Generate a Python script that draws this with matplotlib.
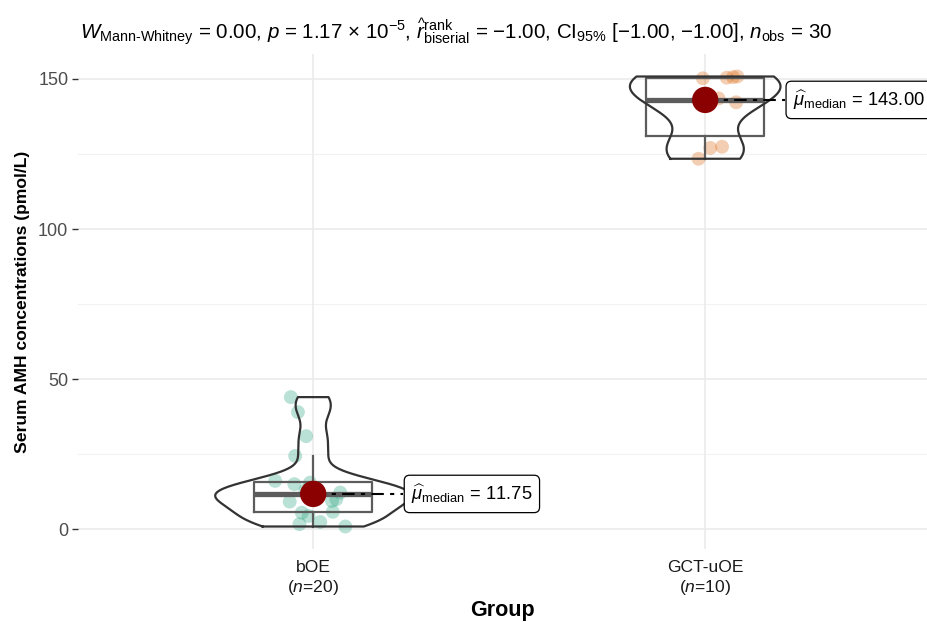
import numpy as np
import matplotlib.pyplot as plt

plt.rcParams['font.family'] = ['Liberation Sans', 'DejaVu Sans']
plt.rcParams['mathtext.fontset'] = 'custom'
plt.rcParams['mathtext.rm'] = 'Liberation Sans'
plt.rcParams['mathtext.it'] = 'Liberation Sans:italic'
plt.rcParams['mathtext.bf'] = 'Liberation Sans:bold'

# data
groups = ["bOE", "GCT-uOE"]
group_n = [20, 10]
boe_vals = [0.9, 1.7, 2.4, 4.4, 5.5, 5.8, 9.2, 9.4, 10.0, 11.5,
            12.0, 12.2, 13.0, 15.0, 15.5, 16.1, 24.4, 31.0, 39.0, 44.0]
boe_jitter = [0.082, -0.035, 0.018, -0.012, -0.029, 0.050, -0.060, 0.048, 0.059, -0.003,
              0.013, 0.069, -0.020, -0.048, -0.008, -0.097, -0.046, -0.018, -0.039, -0.057]
gct_vals = [123.4, 127.0, 127.4, 142.2, 142.5, 143.5, 150.2, 150.4, 150.6, 150.8]
gct_jitter = [-0.017, 0.013, 0.043, 0.079, 0.008, 0.034, -0.006, 0.055, 0.071, 0.082]
colors = ["#1B9E77", "#D95F02"]

title = (r"$W_{\mathrm{Mann‐Whitney}}$ = 0.00, $p$ = 1.17 × 10$^{\mathrm{-5}}$, "
         r"$\widehat{r}_{\mathrm{biserial}}^{\mathrm{rank}}$ = −1.00, "
         r"CI$_{\mathrm{95\%}}$ [−1.00, −1.00], $n_{\mathrm{obs}}$ = 30")


def nrd0(x):
    x = np.asarray(x)
    iqr = np.percentile(x, 75) - np.percentile(x, 25)
    lo = min(np.std(x, ddof=1), iqr / 1.34)
    return 0.9 * lo * len(x) ** (-0.2)


def density(x, grid):
    x = np.asarray(x)
    bw = nrd0(x)
    z = (grid[:, None] - x[None, :]) / bw
    return np.exp(-0.5 * z ** 2).sum(axis=1) / (len(x) * bw * np.sqrt(2 * np.pi))


all_vals = [boe_vals, gct_vals]
all_jit = [boe_jitter, gct_jitter]
grids = [np.linspace(min(v), max(v), 512) for v in all_vals]
dens = [density(v, g) for v, g in zip(all_vals, grids)]
dmax = max(d.max() for d in dens)

fig = plt.figure(figsize=(9.27, 6.22), dpi=100)
ax = fig.add_axes([78 / 927, (622 - 549) / 622, 849 / 927, (549 - 54) / 622])

ymin = min(min(v) for v in all_vals)
ymax = max(max(v) for v in all_vals)
pad = (ymax - ymin) * 0.05
ax.set_ylim(ymin - pad, ymax + pad)
ax.set_xlim(0.4, 0.4 + 849 / 392)

# grid
for yv in [25, 75, 125]:
    ax.axhline(yv, color='#F2F2F2', lw=0.8, zorder=0)
for yv in [0, 50, 100, 150]:
    ax.axhline(yv, color='#EBEBEB', lw=1.2, zorder=0)
for xv in [1, 2]:
    ax.axvline(xv, color='#EBEBEB', lw=1.2, zorder=0)

for i, (vals, jit, g, d) in enumerate(zip(all_vals, all_jit, grids, dens)):
    pos = i + 1
    vals = np.array(vals)
    # jittered points
    ax.scatter(pos + np.array(jit), vals, s=100, color=colors[i], alpha=0.3,
               edgecolors='none', zorder=2)
    # box
    ax.boxplot(vals, positions=[pos], widths=0.3, showfliers=False, showcaps=False,
               patch_artist=False, manage_ticks=False,
               boxprops=dict(color='#5C5C5C', lw=1.6),
               whiskerprops=dict(color='#5C5C5C', lw=1.6),
               medianprops=dict(color='#5C5C5C', lw=3.8),
               zorder=3)
    # violin
    hw = 0.25 * d / dmax
    xs = np.concatenate([pos - hw, (pos + hw)[::-1], [pos - hw[0]]])
    ys = np.concatenate([g, g[::-1], [g[0]]])
    ax.plot(xs, ys, color='#333333', lw=1.6, zorder=4)
    # median
    med = np.median(vals)
    ax.scatter([pos], [med], s=360, color='#8B0000', zorder=5, edgecolors='none')
    lab_x = pos + (0.23 if i == 0 else 0.204)
    ax.plot([pos, lab_x], [med, med], color='black', lw=1.5,
            linestyle=(0, (6, 3, 2, 3)), zorder=4)
    ax.text(lab_x + 0.02, med, r"$\widehat{\mu}_{\mathrm{median}}$ = %.2f" % med,
            fontsize=13.2, ha='left', va='center', zorder=6,
            bbox=dict(boxstyle='round,pad=0.38,rounding_size=0.3', fc='white',
                      ec='black', lw=0.9))

ax.set_xticks([1, 2])
ax.set_xticklabels(["%s\n($n$=%d)" % (g, n) for g, n in zip(groups, group_n)],
                   fontsize=12.6, color='#1A1A1A')
ax.set_yticks([0, 50, 100, 150])
ax.tick_params(axis='y', labelsize=13, labelcolor='#4D4D4D', color='#333333',
               length=4, width=1, pad=3)
ax.tick_params(axis='x', length=0, pad=8)
for sp in ax.spines.values():
    sp.set_visible(False)

ax.set_ylabel("Serum AMH concentrations (pmol/L)", fontsize=12.6, fontweight='bold',
              labelpad=6)
ax.set_xlabel("Group", fontsize=15.5, fontweight='bold', labelpad=2)

fig.text(80 / 927, 1 - 32 / 622, title, fontsize=14.8, ha='left', va='center')

fig.savefig("out.png", dpi=100)
